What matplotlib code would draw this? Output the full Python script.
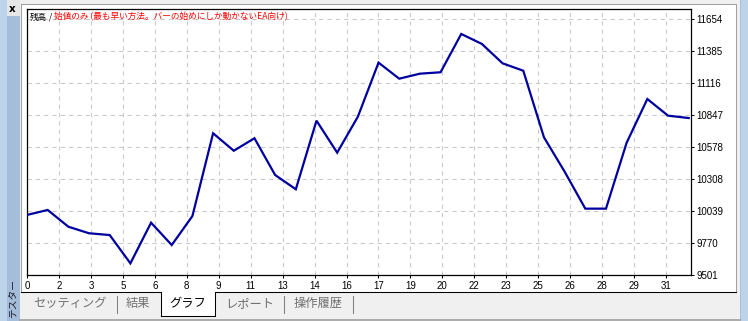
import matplotlib
matplotlib.use("Agg")
import matplotlib.pyplot as plt
from matplotlib.patches import Rectangle
from matplotlib.lines import Line2D

# ---------------- data ----------------
balance = [10006, 10048, 9907, 9852, 9837, 9599, 9941, 9753, 9997, 10693,
           10546, 10651, 10342, 10222, 10799, 10530, 10832, 11287, 11152, 11194,
           11206, 11528, 11444, 11281, 11219, 10659, 10370, 10059, 10059, 10614,
           10981, 10841, 10821]
x_tick_labels = ["0", "2", "3", "5", "6", "8", "9", "11", "13", "14", "16",
                 "17", "19", "20", "22", "23", "25", "26", "28", "29", "31"]
y_ticks = [9501, 9770, 10039, 10308, 10578, 10847, 11116, 11385, 11654]
title_parts = [("残高", "black"), (" / ", "black"),
               ("始値のみ (最も早い方法。バーの始めにしか動かないEA向け)", "#ff0000")]
tab_labels = ["セッティング", "結果", "グラフ", "レポート", "操作履歴"]
selected_tab = "グラフ"
side_label = "テスター"

W, H = 748, 321
CJK = ["Noto Sans CJK JP", "DejaVu Sans"]

fig = plt.figure(figsize=(W / 100, H / 100), dpi=100, facecolor="#f0f0f0")


def rect(x0, y0, x1, y1, fc, ec="none", lw=0, z=0):
    fig.add_artist(Rectangle((x0 / W, 1 - y1 / H), (x1 - x0) / W, (y1 - y0) / H,
                             transform=fig.transFigure, facecolor=fc,
                             edgecolor=ec, linewidth=lw, zorder=z))


def hline(x0, x1, y, color, lw=0.75, z=1):
    fig.add_artist(Line2D([x0 / W, x1 / W], [1 - y / H, 1 - y / H],
                          transform=fig.transFigure, color=color, lw=lw, zorder=z))


def vline(x, y0, y1, color, lw=0.75, z=1):
    fig.add_artist(Line2D([x / W, x / W], [1 - y0 / H, 1 - y1 / H],
                          transform=fig.transFigure, color=color, lw=lw, zorder=z))


# window chrome
rect(0, 0, 7, H, "#bcd3ea")
rect(7, 16, 19.5, H, "#a4bddb")
rect(7, 0, 19.5, 16, "#e6e6e6")
fig.text(12.5 / W, 1 - 8.5 / H, "x", fontsize=7.5, fontweight="bold",
         ha="center", va="center", family="DejaVu Sans")
fig.text(13 / W, 1 - 298 / H, side_label, fontsize=7.0, rotation=90,
         ha="center", va="center", family=CJK, color="#1a1a2a", zorder=3)
rect(740, 0, W, H, "#bcd3ea")
vline(740, 0, H, "#a9c3df")
rect(21, 4, 735.5, 292, "white", ec="#a0a0a0", lw=0.75)
hline(19.5, 740, 319.5, "#a0a0a0", lw=1.2)

# tab bar
hline(21, 161, 292, "black")
hline(215, 736, 292, "black")
rect(161, 292, 215, 316, "white", ec="none", z=1)
vline(161, 292, 316, "black")
vline(215, 292, 316, "black")
hline(161, 215, 316, "black")
tab_centers = [70, 138, 188, 250, 318]
for lab, cx in zip(tab_labels, tab_centers):
    fig.text(cx / W, 1 - 303.5 / H, lab, fontsize=8.8, ha="center", va="center",
             family=CJK, color="black" if lab == selected_tab else "#707070", zorder=3)
for sx in [117, 284, 353]:
    vline(sx, 296, 313, "#808080")

# ---------------- chart ----------------
L, T, R_, B = 27, 9, 691, 275
ax = fig.add_axes([L / W, 1 - B / H, (R_ - L) / W, (B - T) / H])
ax.set_facecolor("white")
xs = list(range(len(balance)))
px_per_pt = (688.7 - L) / (len(balance) - 1)
ax.plot(xs, balance, color="#0000a0", lw=1.6, solid_joinstyle="miter", zorder=3)
ax.set_xlim(0, (R_ - L) / px_per_pt)
ax.set_ylim(9501, 11738)

step = 31.95 / px_per_pt
ax.set_xticks([i * step for i in range(len(x_tick_labels))])
ax.set_xticklabels(x_tick_labels)
ax.set_yticks(y_ticks)
ax.set_yticklabels([str(v) for v in y_ticks])
ax.yaxis.tick_right()
ax.tick_params(axis="both", direction="out", length=2.5, width=0.75,
               labelsize=7, pad=1.5, colors="black")
for lab in ax.get_xticklabels() + ax.get_yticklabels():
    lab.set_family("Liberation Sans")
ax.grid(True, color="#c8c8c8", linestyle=(0, (4, 4)), lw=0.75, zorder=0)
for s in ax.spines.values():
    s.set_color("black")
    s.set_linewidth(0.9)

# title in several colours
prev = None
for txt, col in title_parts:
    if prev is None:
        prev = ax.text(3 / (R_ - L), 1 - 8 / (B - T), txt, transform=ax.transAxes,
                       fontsize=6.2, color=col, family=CJK, ha="left", va="center", zorder=5)
    else:
        prev = ax.annotate(txt, xy=(1, 0.5), xycoords=prev, fontsize=6.2, color=col,
                           family=CJK, ha="left", va="center", zorder=5)

fig.savefig("out.png", dpi=100, facecolor=fig.get_facecolor())
